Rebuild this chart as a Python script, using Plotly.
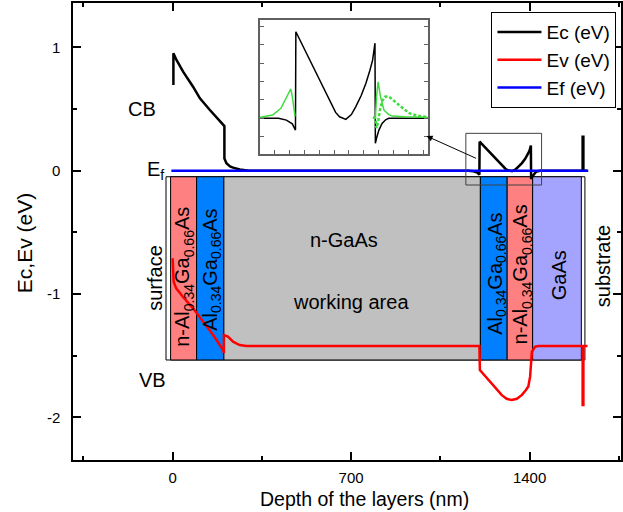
import plotly.graph_objects as go

# Band edges across the heterostructure (depth in nm, energy in eV)
depth_ec = [3, 3, 15, 41, 80, 107, 146, 203, 203, 211, 225, 237, 263, 300,
            1160, 1180, 1195, 1203, 1204, 1230, 1260, 1290, 1305, 1315, 1331,
            1345, 1356, 1370, 1382, 1392, 1399, 1405, 1406, 1410, 1415, 1423,
            1432, 1440, 1608, 1608, 1611, 1611, 1625]
ec = [0.695, 0.952, 0.898, 0.803, 0.681, 0.587, 0.492, 0.362, 0.10, 0.06,
      0.035, 0.025, 0.01, 0.0,
      0.0, -0.005, -0.015, -0.032, 0.235, 0.178, 0.113, 0.047, 0.016, 0.004,
      -0.003, 0.01, 0.031, 0.062, 0.095, 0.13, 0.158, 0.204, -0.068, -0.05,
      -0.032, -0.014, -0.004, 0.0, 0.0, 0.276, 0.276, 0.0, 0.0]

depth_ev = [0, 1, 4, 14, 40, 80, 119, 159, 198, 201, 201, 217, 237, 263, 289,
            1203, 1205, 1291, 1310, 1330, 1350, 1369, 1385, 1395, 1402, 1406,
            1409, 1422, 1435, 1608, 1608, 1611, 1611, 1627]
ev = [-0.71, -0.83, -0.90, -0.954, -1.022, -1.116, -1.224, -1.333, -1.454,
      -1.481, -1.333, -1.346, -1.387, -1.414, -1.422,
      -1.422, -1.616, -1.82, -1.85, -1.86, -1.85, -1.82, -1.78, -1.75, -1.67,
      -1.535, -1.468, -1.427, -1.422, -1.422, -1.90, -1.90, -1.422, -1.422]

depth_ef = [-5, 1630]
ef = [0.0, 0.0]

# Carrier density profiles shown in the zoomed panel (arbitrary scale)
depth_n1 = [1113, 1145, 1166, 1178, 1186, 1191, 1195, 1199, 1202]
n1 = [0.003, 0.009, 0.027, 0.054, 0.072, 0.0795, 0.059, 0.023, 0.005]
depth_n2 = [1400, 1406, 1409, 1413, 1419, 1428, 1440, 1449, 1480, 1539]
n2 = [0.003, 0.0, 0.06, 0.099, 0.059, 0.022, 0.01, 0.006, 0.004, 0.003]
depth_n3 = [1400, 1406, 1409, 1413, 1418, 1424, 1430, 1437, 1445, 1455, 1466,
            1480, 1492, 1510, 1526, 1539]
n3 = [0.003, 0.0, -0.027, -0.01, 0.025, 0.048, 0.058, 0.06, 0.055, 0.045,
      0.036, 0.024, 0.014, 0.008, 0.005, 0.003]

# Tick labels
x_tick_vals = [0, 700, 1400]
x_tick_text = ["0", "700", "1400"]
y_tick_vals = [-2, -1, 0, 1]
y_tick_text = ["-2", "-1", "0", "1"]

# Layer stack (nm)
layer_start = [-8, 94, 201, 1207, 1312, 1412]
layer_end = [94, 201, 1207, 1312, 1412, 1603]
layer_color = ["#FF8080", "#0080FF", "#C0C0C0", "#0080FF", "#FF8080", "#A4A4FF"]
stack_start, stack_end = -26, 1617
stack_top, stack_bottom = -0.049, -1.535

FONT = "Liberation Sans, Arial, sans-serif"

fig = go.Figure()
fig.add_trace(go.Scatter(x=depth_ec, y=ec, mode="lines", name="Ec (eV)",
                         line=dict(color="black", width=2.5)))
fig.add_trace(go.Scatter(x=depth_ev, y=ev, mode="lines", name="Ev (eV)",
                         line=dict(color="#FF0000", width=2.5)))
fig.add_trace(go.Scatter(x=depth_ef, y=ef, mode="lines", name="Ef (eV)",
                         line=dict(color="#0000FF", width=2.5)))

# zoomed panel
fig.add_trace(go.Scatter(x=depth_ec, y=ec, mode="lines", showlegend=False,
                         xaxis="x2", yaxis="y2",
                         line=dict(color="black", width=1.5)))
fig.add_trace(go.Scatter(x=depth_n1, y=n1, mode="lines", showlegend=False,
                         xaxis="x2", yaxis="y2",
                         line=dict(color="#3CDC3C", width=1.5)))
fig.add_trace(go.Scatter(x=depth_n2, y=n2, mode="lines", showlegend=False,
                         xaxis="x2", yaxis="y2",
                         line=dict(color="#3CDC3C", width=1.5)))
fig.add_trace(go.Scatter(x=depth_n3, y=n3, mode="lines", showlegend=False,
                         xaxis="x2", yaxis="y2",
                         line=dict(color="#3CDC3C", width=2.5, dash="3px,2px")))

shapes = [dict(type="rect", xref="x", yref="y", x0=stack_start, x1=stack_end,
               y0=stack_bottom, y1=stack_top, fillcolor="white",
               line=dict(color="black", width=1), layer="below")]
for s, e, c in zip(layer_start, layer_end, layer_color):
    shapes.append(dict(type="rect", xref="x", yref="y", x0=s, x1=e,
                       y0=stack_bottom, y1=stack_top, fillcolor=c,
                       line=dict(color="black", width=1), layer="below"))
# frame marking the zoomed region
shapes.append(dict(type="rect", xref="x", yref="y", x0=1150, x1=1447,
                   y0=-0.116, y1=0.303, line=dict(color="#404040", width=1)))

def label(text, x, y, angle=0, size=20):
    return dict(text=text, x=x, y=y, xref="x", yref="y", showarrow=False,
                textangle=angle, font=dict(family=FONT, size=size, color="black"),
                xanchor="center", yanchor="middle")

alga = "Al<sub>0.34</sub>Ga<sub>0.66</sub>As"
annotations = [
    label("CB", -121, 0.50),
    label("VB", -78, -1.70),
    label("E<sub>f</sub>", -66, 0.0),
    label("surface", -70, -0.87, -90),
    label("substrate", 1688, -0.774, -90),
    label("n-GaAs", 672, -0.562),
    label("working area", 700, -1.065),
    label("n-" + alga, 43, -0.864, -90),
    label(alga, 152, -0.80, -90),
    label(alga, 1267, -0.838, -90),
    label("n-" + alga, 1368, -0.838, -90),
    label("GaAs", 1516, -0.846, -90),
    dict(x=996, y=0.281, ax=1196, ay=0.095, xref="x", yref="y",
         axref="x", ayref="y", text="", showarrow=True, arrowhead=2,
         arrowsize=1.2, arrowwidth=1, arrowcolor="black"),
    # axis titles, centred on the full (partly clipped) axis frame
    dict(text="Depth of the layers (nm)", x=0.5327, y=-0.0853,
         xref="paper", yref="paper", showarrow=False,
         xanchor="center", yanchor="middle",
         font=dict(family=FONT, size=19.5, color="black")),
    dict(text="Ec,Ev (eV)", x=-0.0891, y=0.4748, textangle=-90,
         xref="paper", yref="paper", showarrow=False,
         xanchor="center", yanchor="middle",
         font=dict(family=FONT, size=21, color="black")),
]

axis_common = dict(showline=True, linecolor="black", linewidth=1.5,
                   mirror="ticks", ticks="inside", ticklen=8, tickwidth=1.5,
                   tickcolor="black", showgrid=False, zeroline=False,
                   tickfont=dict(family=FONT, size=15, color="black"))

fig.update_layout(
    width=623, height=512,
    margin=dict(l=73, r=0, t=3, b=52),
    paper_bgcolor="white", plot_bgcolor="white",
    font=dict(family=FONT, color="black"),
    xaxis=dict(range=[-390.8, 1758.5], tickvals=x_tick_vals,
               ticktext=x_tick_text,
               minor=dict(ticks="inside", ticklen=4, tickwidth=1.5,
                          tick0=0, dtick=350, tickcolor="black"),
               ticklabelstandoff=3,
               **axis_common),
    yaxis=dict(range=[-2.346, 1.36], tickvals=y_tick_vals,
               ticktext=y_tick_text,
               minor=dict(ticks="inside", ticklen=4, tickwidth=1.5,
                          tick0=0, dtick=0.5, tickcolor="black"),
               ticklabelstandoff=8,
               **axis_common),
    xaxis2=dict(domain=[0.3413, 0.6473], anchor="y2", range=[1113, 1539],
                showline=True, linecolor="#606060", linewidth=1.5, mirror=True,
                ticks="inside", ticklen=4, tickcolor="#606060", tick0=1149,
                dtick=38, showticklabels=False, showgrid=False, zeroline=False),
    yaxis2=dict(domain=[0.6696, 0.9628], anchor="x2", range=[-0.097, 0.267],
                showline=True, linecolor="#606060", linewidth=1.5,
                mirror="ticks", ticks="inside", ticklen=4, tickcolor="#606060",
                tick0=0, dtick=0.05, showticklabels=False, showgrid=False,
                zeroline=False),
    legend=dict(x=0.7636, y=0.980, xanchor="left", yanchor="top",
                bgcolor="white", bordercolor="black", borderwidth=1,
                font=dict(family=FONT, size=19), itemwidth=44,
                tracegroupgap=0),
    shapes=shapes,
    annotations=annotations,
)

fig.write_html("out.html")
